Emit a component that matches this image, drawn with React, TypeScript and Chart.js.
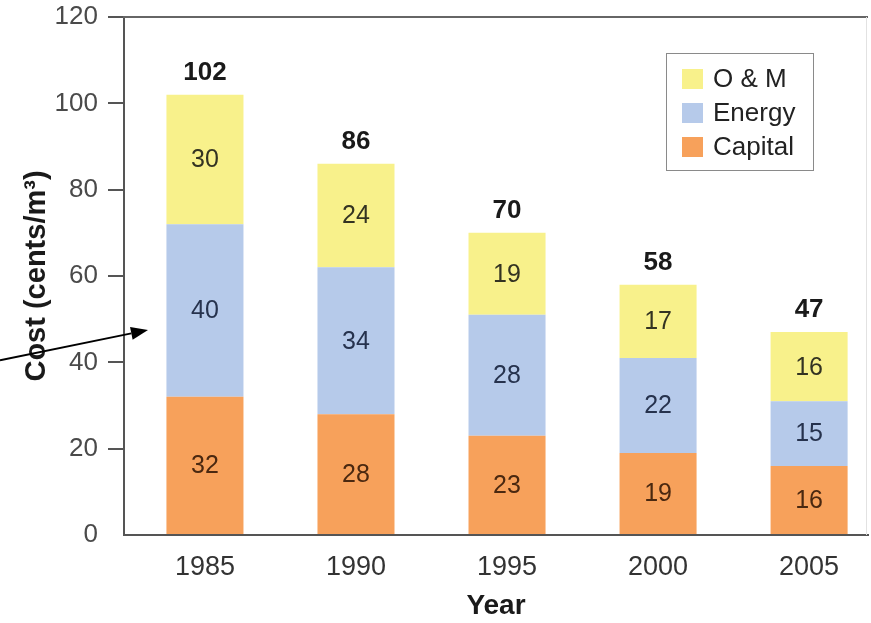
import React, { useEffect, useRef } from "react";
import { Chart, registerables } from "chart.js";

Chart.register(...registerables);

// ---- data ----
const years = [1985, 1990, 1995, 2000, 2005];
const capital = [32, 28, 23, 19, 16];
const energy = [40, 34, 28, 22, 15];
const om = [30, 24, 19, 17, 16];
const totals = [102, 86, 70, 58, 47];
const seriesNames = ["Capital", "Energy", "O & M"];
const legendOrder = ["O & M", "Energy", "Capital"];
const yTickValues = [0, 20, 40, 60, 80, 100, 120];

const COLORS: Record<string, string> = {
  Capital: "#F7A15B",
  Energy: "#B6CAEA",
  "O & M": "#F8F18B",
};
const LABEL_COLORS: Record<string, string> = {
  Capital: "#4a2810",
  Energy: "#26324d",
  "O & M": "#333322",
};

const FONT = "'Liberation Sans', Arial, Helvetica, sans-serif";
const W = 871;
const H = 623;

export default function App() {
  const ref = useRef<HTMLCanvasElement>(null);

  useEffect(() => {
    document.body.style.margin = "0";
    const canvas = ref.current;
    if (!canvas) return;

    const values = [capital, energy, om];

    const overlay = {
      id: "overlay",
      afterDatasetsDraw(chart: any) {
        const ctx = chart.ctx;
        const area = chart.chartArea;
        const yScale = chart.scales.y;
        ctx.save();

        // top frame line
        ctx.strokeStyle = "#666";
        ctx.lineWidth = 2;
        ctx.beginPath();
        ctx.moveTo(area.left - 1, area.top);
        ctx.lineTo(area.right, area.top);
        ctx.stroke();
        // faint right frame
        ctx.strokeStyle = "#e2e2e2";
        ctx.lineWidth = 1;
        ctx.beginPath();
        ctx.moveTo(area.right - 1.5, area.top);
        ctx.lineTo(area.right - 1.5, area.bottom);
        ctx.stroke();

        // segment labels
        ctx.textAlign = "center";
        ctx.textBaseline = "middle";
        ctx.font = `25px ${FONT}`;
        chart.data.datasets.forEach((ds: any, i: number) => {
          const meta = chart.getDatasetMeta(i);
          ctx.fillStyle = LABEL_COLORS[ds.label];
          meta.data.forEach((bar: any, j: number) => {
            const p = bar.getProps(["x", "y", "base"], true);
            ctx.fillText(String(values[i][j]), p.x, (p.y + p.base) / 2 + 1);
          });
        });

        // totals above bars
        const topMeta = chart.getDatasetMeta(chart.data.datasets.length - 1);
        ctx.font = `bold 26px ${FONT}`;
        ctx.fillStyle = "#1a1a1a";
        topMeta.data.forEach((bar: any, j: number) => {
          const p = bar.getProps(["x", "y"], true);
          ctx.fillText(String(totals[j]), p.x, p.y - 22);
        });

        // legend box
        const bw = 147;
        const bh = 117;
        const bx = area.right - 55 - bw;
        const by = area.top + 36;
        ctx.fillStyle = "#ffffff";
        ctx.fillRect(bx, by, bw, bh);
        ctx.strokeStyle = "#8a8a8a";
        ctx.lineWidth = 1;
        ctx.strokeRect(bx + 0.5, by + 0.5, bw, bh);
        ctx.font = `26px ${FONT}`;
        ctx.textAlign = "left";
        legendOrder.forEach((name, k) => {
          const cy = by + 26 + k * 34;
          ctx.fillStyle = COLORS[name];
          ctx.fillRect(bx + 16, cy - 10, 21, 20);
          ctx.fillStyle = "#222";
          ctx.fillText(name, bx + 47, cy + 1);
        });

        // arrow
        const tipX = area.left + 24;
        const tipY = yScale.getPixelForValue(47.5);
        const startX = 0;
        const startY = yScale.getPixelForValue(40.5);
        const ang = Math.atan2(tipY - startY, tipX - startX);
        const headLen = 17;
        const headW = 6.5;
        const baseX = tipX - headLen * Math.cos(ang);
        const baseY = tipY - headLen * Math.sin(ang);
        ctx.strokeStyle = "#000";
        ctx.lineWidth = 2;
        ctx.beginPath();
        ctx.moveTo(startX, startY);
        ctx.lineTo(baseX, baseY);
        ctx.stroke();
        ctx.fillStyle = "#000";
        ctx.beginPath();
        ctx.moveTo(tipX, tipY);
        ctx.lineTo(baseX + headW * Math.sin(ang), baseY - headW * Math.cos(ang));
        ctx.lineTo(baseX - headW * Math.sin(ang), baseY + headW * Math.cos(ang));
        ctx.closePath();
        ctx.fill();

        ctx.restore();
      },
    };

    const chart = new Chart(canvas, {
      type: "bar",
      data: {
        datasets: seriesNames.map((name, i) => ({
          label: name,
          data: years.map((yr, j) => ({ x: yr, y: values[i][j] })),
          backgroundColor: COLORS[name],
          borderWidth: 0,
          barPercentage: 0.51,
          categoryPercentage: 1,
        })),
      },
      options: {
        animation: false,
        responsive: true,
        maintainAspectRatio: false,
        layout: { padding: { top: 17, right: 3, bottom: 0, left: 0 } },
        plugins: {
          legend: { display: false },
          tooltip: { enabled: false },
        },
        scales: {
          x: {
            type: "linear",
            min: 1982.32,
            max: 2006.95,
            stacked: true,
            offset: false,
            grid: { display: false, drawTicks: false },
            border: { display: true, color: "#555", width: 2 },
            afterBuildTicks: (s: any) => {
              s.ticks = years.map((v) => ({ value: v }));
            },
            afterFit: (s: any) => {
              s.height = 88;
              s.paddingLeft = 0;
              s.paddingRight = 0;
            },
            ticks: {
              font: { family: FONT, size: 27 },
              color: "#333",
              padding: 16,
              maxRotation: 0,
              autoSkip: false,
              callback: (v: any) => String(v),
            },
            title: {
              display: true,
              text: "Year",
              font: { family: FONT, size: 28, weight: "bold" },
              color: "#1a1a1a",
              padding: { top: 0, bottom: 0 },
            },
          },
          y: {
            stacked: true,
            min: 0,
            max: 120,
            afterBuildTicks: (s: any) => {
              s.ticks = yTickValues.map((v) => ({ value: v }));
            },
            afterFit: (s: any) => {
              s.width = 124;
              s.paddingTop = 0;
              s.paddingBottom = 0;
            },
            grid: {
              drawOnChartArea: false,
              drawTicks: true,
              tickLength: 16,
              lineWidth: 2,
              color: (c: any) => (c.tick && c.tick.value === 0 ? "rgba(0,0,0,0)" : "#555"),
            },
            border: { display: true, color: "#555", width: 2 },
            ticks: {
              font: { family: FONT, size: 26 },
              color: "#4a4a4a",
              padding: 10,
            },
            title: {
              display: true,
              text: "Cost (cents/m³)",
              font: { family: FONT, size: 29, weight: "bold" },
              color: "#1a1a1a",
              padding: { top: 20, bottom: 0 },
            },
          },
        },
      },
      plugins: [overlay],
    } as any);

    return () => chart.destroy();
  }, []);

  return (
    <div style={{ width: W, height: H, position: "relative" }}>
      <canvas ref={ref} />
    </div>
  );
}
